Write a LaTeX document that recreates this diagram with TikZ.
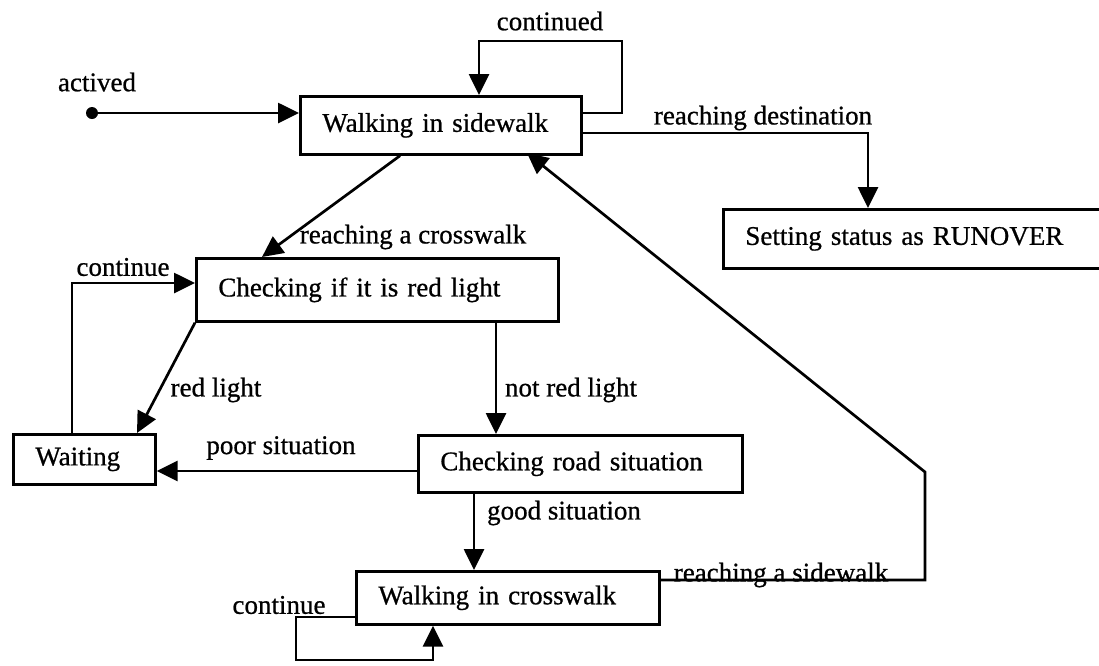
\documentclass[tikz,border=0pt]{standalone}
\usepackage{fontspec}
\setmainfont{Liberation Serif}[BoldFont={Liberation Serif},BoldFeatures={FakeBold=0.7}]
\usetikzlibrary{arrows.meta,calc}

\tikzset{
  state/.style={draw, line width=2.7pt, anchor=north west, inner xsep=22pt,
    inner ysep=0pt, align=left, font=\fontsize{27}{30}\selectfont\bfseries},
  lbl/.style={font=\fontsize{27}{30}\selectfont\bfseries, inner sep=0pt},
  conn/.style={line width=2.7pt, line join=miter,
    -{Triangle[length=21pt,width=20pt]}}
}

\begin{document}
\begin{tikzpicture}[x=1pt,y=-1pt]
  \clip (0,0) rectangle (1099,665);
  \fill[white] (0,0) rectangle (1099,665);

  % states
  \node[state, text width=237pt, minimum height=58pt] (WS)  at (299,95)  {Walking in sidewalk};
  \node[state, text width=346pt, minimum height=59pt] (SS)  at (722,208) {Setting status as RUNOVER};
  \node[state, text width=318pt, minimum height=63pt] (CR)  at (195,257) {Checking if it is red light};
  \node[state, text width=98pt,  minimum height=50pt] (W)   at (12,433)  {Waiting};
  \node[state, text width=280pt, minimum height=57pt] (CRS) at (417,434) {Checking road situation};
  \node[state, text width=259pt, minimum height=53pt] (WC)  at (355,570) {Walking in crosswalk};

  % initial pseudo-state
  \node[circle, fill, inner sep=0pt, minimum size=12pt] (dot) at (92,113) {};

  % bend points of the connectors
  \coordinate (lpA) at (622,113);
  \coordinate (lpB) at (622,41);
  \coordinate (lpC) at (479,41);
  \coordinate (rdA) at (868,133);
  \coordinate (rcA) at (400,153);
  \coordinate (rcB) at (262,257);
  \coordinate (rsA) at (925,580);
  \coordinate (rsB) at (925,472);
  \coordinate (rsC) at (527,153);
  \coordinate (cwA) at (72,283);
  \coordinate (rlA) at (137,433);
  \coordinate (nrA) at (496,0);
  \coordinate (psA) at (0,471);
  \coordinate (gsA) at (474,0);
  \coordinate (clA) at (296,617);
  \coordinate (clB) at (296,660);
  \coordinate (clC) at (433,660);

  % transitions
  \draw[conn] (dot) -- (dot -| WS.west);
  \draw[conn] (WS.east |- lpA) -- (lpA) -- (lpB) -- (lpC) -- (lpC |- WS.north);
  \draw[conn] (WS.east |- rdA) -- (rdA) -- (rdA |- SS.north);
  \draw[conn] (WS.south -| rcA) -- (rcB);
  \draw[conn] (WC.east |- rsA) -- (rsA) -- (rsB) -- (rsC);
  \draw[conn] (W.north -| cwA) -- (cwA) -- (cwA -| CR.west);
  \draw[conn] (CR.south west) -- (rlA);
  \draw[conn] (CR.south -| nrA) -- (CRS.north -| nrA);
  \draw[conn] (CRS.west |- psA) -- (W.east |- psA);
  \draw[conn] (CRS.south -| gsA) -- (WC.north -| gsA);
  \draw[conn] (WC.west |- clA) -- (clA) -- (clB) -- (clC) -- (clC |- WC.south);

  % transition labels
  \node[lbl] (tAct)  at (97,82)   {actived};
  \node[lbl] (tCont) at (550,21)  {continued};
  \node[lbl] (tDest) at (763,118) {reaching destination};
  \node[lbl] (tCw)   at (413,237) {reaching a crosswalk};
  \node[lbl] (tWc)   at (123,267) {continue};
  \node[lbl] (tRed)  at (216,390) {red light};
  \node[lbl] (tNred) at (571,390) {not red light};
  \node[lbl] (tPoor) at (281,448) {poor situation};
  \node[lbl] (tGood) at (564,513) {good situation};
  \node[lbl] (tSide) at (781,575) {reaching a sidewalk};
  \node[lbl] (tLoop) at (279,605) {continue};
\end{tikzpicture}
\end{document}
